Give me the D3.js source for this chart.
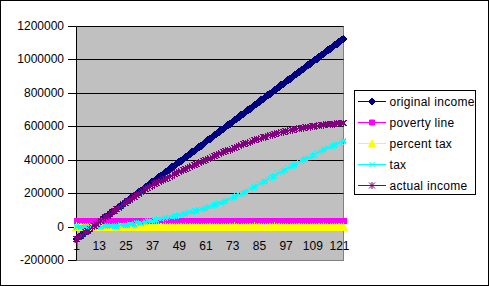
<!DOCTYPE html>
<head>
<meta charset="utf-8">
<script src="https://d3js.org/d3.v7.min.js"></script>
<style>
body { margin:0; background:#fff; }
text { font-family: "Liberation Sans", Arial, sans-serif; font-size: 12px; fill: #000; }
</style>
</head>
<body>
<script>

var periods = [1,2,3,4,5,6,7,8,9,10,11,12,13,14,15,16,17,18,19,20,21,22,23,24,25,26,27,28,29,30,
  31,32,33,34,35,36,37,38,39,40,41,42,43,44,45,46,47,48,49,50,51,52,53,54,55,56,57,58,59,60,
  61,62,63,64,65,66,67,68,69,70,71,72,73,74,75,76,77,78,79,80,81,82,83,84,85,86,87,88,89,90,
  91,92,93,94,95,96,97,98,99,100,101,102,103,104,105,106,107,108,109,110,111,112,113,114,115,116,117,118,119,120,121];
var xLabels = [1,13,25,37,49,61,73,85,97,109,121];
var yTicks = [-200000,0,200000,400000,600000,800000,1000000,1200000];

var originalIncome = [
  -75000,-65000,-55000,-45000,-35000,-25000,-15000,-5000,5000,15000,
  25000,35000,45000,55000,65000,75000,85000,95000,105000,115000,
  125000,135000,145000,155000,165000,175000,185000,195000,205000,215000,
  225000,235000,245000,255000,265000,275000,285000,295000,305000,315000,
  325000,335000,345000,355000,365000,375000,385000,395000,405000,415000,
  425000,435000,445000,455000,465000,475000,485000,495000,505000,515000,
  525000,535000,545000,555000,565000,575000,585000,595000,605000,615000,
  625000,635000,645000,655000,665000,675000,685000,695000,705000,715000,
  725000,735000,745000,755000,765000,775000,785000,795000,805000,815000,
  825000,835000,845000,855000,865000,875000,885000,895000,905000,915000,
  925000,935000,945000,955000,965000,975000,985000,995000,1005000,1015000,
  1025000,1035000,1045000,1055000,1065000,1075000,1085000,1095000,1105000,1115000,
  1125000];

var povertyLine = [
  35000,35000,35000,35000,35000,35000,35000,35000,35000,35000,
  35000,35000,35000,35000,35000,35000,35000,35000,35000,35000,
  35000,35000,35000,35000,35000,35000,35000,35000,35000,35000,
  35000,35000,35000,35000,35000,35000,35000,35000,35000,35000,
  35000,35000,35000,35000,35000,35000,35000,35000,35000,35000,
  35000,35000,35000,35000,35000,35000,35000,35000,35000,35000,
  35000,35000,35000,35000,35000,35000,35000,35000,35000,35000,
  35000,35000,35000,35000,35000,35000,35000,35000,35000,35000,
  35000,35000,35000,35000,35000,35000,35000,35000,35000,35000,
  35000,35000,35000,35000,35000,35000,35000,35000,35000,35000,
  35000,35000,35000,35000,35000,35000,35000,35000,35000,35000,
  35000,35000,35000,35000,35000,35000,35000,35000,35000,35000,
  35000];

var percentTax = [
  0,0,0,0,0,0,0,0,0,0,
  0.00,0.01,0.01,0.02,0.02,0.03,0.03,0.04,0.05,0.05,
  0.06,0.06,0.07,0.08,0.08,0.09,0.09,0.10,0.11,0.11,
  0.12,0.12,0.13,0.13,0.14,0.14,0.14,0.15,0.15,0.15,
  0.16,0.16,0.16,0.17,0.17,0.17,0.18,0.18,0.18,0.19,
  0.19,0.19,0.20,0.20,0.20,0.21,0.21,0.22,0.22,0.22,
  0.23,0.23,0.24,0.24,0.25,0.25,0.25,0.26,0.26,0.27,
  0.27,0.28,0.28,0.29,0.29,0.30,0.31,0.31,0.32,0.32,
  0.33,0.33,0.34,0.34,0.35,0.35,0.36,0.36,0.37,0.37,
  0.38,0.38,0.39,0.39,0.39,0.40,0.40,0.40,0.41,0.41,
  0.41,0.42,0.42,0.42,0.43,0.43,0.43,0.43,0.44,0.44,
  0.44,0.44,0.44,0.44,0.45,0.45,0.45,0.45,0.45,0.45,
  0.46];

var tax = [
  0,0,0,0,0,0,0,0,0,0,
  100,300,600,1000,1500,2100,2900,3800,4800,5900,
  7200,8600,10100,11700,13400,15300,17300,19400,21600,23900,
  26300,28700,31100,33500,36000,38500,41000,43600,46100,48650,
  51250,53900,56600,59350,62150,65000,67950,71000,74150,77400,
  80750,84200,87750,91400,95150,99000,102950,107000,111150,115400,
  119750,124200,128800,133550,138450,143500,148700,154050,159550,165200,
  171000,176950,183050,189300,195700,202250,208950,215800,222800,229900,
  237100,244400,251800,259250,266750,274250,281750,289250,296750,304250,
  311700,319100,326450,333750,341000,348200,355350,362450,369500,376500,
  383450,390350,397200,404000,410750,417450,424100,430700,437250,443750,
  450200,456600,462950,469250,475500,481700,487850,493950,500000,506000,
  511950];

var actualIncome = [
  -75000,-65000,-55000,-45000,-35000,-25000,-15000,-5000,5000,15000,
  24950,34900,44800,54700,64550,74400,84200,93950,103650,113300,
  122850,132300,141700,151000,160250,169400,178500,187500,196400,205200,
  213900,222000,229850,237450,244850,252050,259050,265900,272650,279300,
  285900,292450,298950,305400,311750,318050,324350,330630,336880,343100,
  349300,355470,361620,367740,373840,379910,385960,391980,397980,403960,
  409910,415810,421660,427460,433210,438910,444560,450110,455610,461060,
  466460,471760,477010,482210,487310,492360,497360,502260,507060,511810,
  516460,521010,525460,529860,534160,538360,542460,546460,550360,554160,
  557860,561410,564810,568110,571260,574310,577210,580010,582710,585310,
  587760,590110,592360,594510,596560,598510,600410,602260,604060,605810,
  607510,609160,610710,612210,613660,615060,616410,617710,618960,620160,
  621310];

// marker shapes, Excel style
var markers = {
  diamond: {d: "M0,-3.5L3.5,0L0,3.5L-3.5,0Z", filled: true},
  square: {d: "M-2.5,-2.5H2.5V2.5H-2.5Z", filled: true},
  triangle: {d: "M0,-3.5L3.5,3L-3.5,3Z", filled: true},
  cross: {d: "M-2.5,-2.5L2.5,2.5M-2.5,2.5L2.5,-2.5", filled: false},
  star: {d: "M-3,-3L3,3M-3,3L3,-3M0,-3.5V3.5", filled: false}
};

var series = [
  {name: "original income", values: originalIncome, color: "#000080", marker: "diamond"},
  {name: "poverty line", values: povertyLine, color: "#ff00ff", marker: "square"},
  {name: "percent tax", values: percentTax, color: "#ffff00", marker: "triangle"},
  {name: "tax", values: tax, color: "#00ffff", marker: "cross"},
  {name: "actual income", values: actualIncome, color: "#800080", marker: "star"}
];

var width = 489,
  height = 286,
  plotLeft = 76.5, plotRight = 343.5, plotTop = 26, plotBottom = 260;

var svg = d3.select("body").append("svg")
    .attr("width", width)
    .attr("height", height);

svg.append("rect")
    .attr("x", 0.5).attr("y", 0.5)
    .attr("width", width - 1).attr("height", height - 1)
    .style("fill", "#fff")
    .style("stroke", "#000");

var x = d3.scalePoint()
    .domain(periods)
    .range([plotLeft, plotRight]);

var y = d3.scaleLinear()
    .domain([-200000, 1200000])
    .rangeRound([plotBottom, plotTop]);

// plot area
svg.append("rect")
    .attr("x", plotLeft).attr("y", plotTop + 0.5)
    .attr("width", plotRight - plotLeft).attr("height", plotBottom - plotTop)
    .style("fill", "#c0c0c0")
    .style("stroke", "#808080");

svg.append("g")
  .selectAll("line")
  .data(yTicks.slice(1))
  .enter().append("line")
    .attr("x1", plotLeft).attr("x2", plotRight)
    .attr("y1", function(d) { return y(d) + 0.5; })
    .attr("y2", function(d) { return y(d) + 0.5; })
    .style("stroke", "#000");

var yAxis = svg.append("g")
    .attr("transform", "translate(76,0)")
    .call(d3.axisLeft(y).tickValues(yTicks).tickSize(8).tickPadding(4).tickSizeOuter(0).tickFormat(String));
yAxis.selectAll("line, path").style("stroke", "#000");

var xAxis = svg.append("g")
    .attr("transform", "translate(-0.5," + y(0) + ")")
    .style("shape-rendering", "crispEdges")
    .call(d3.axisBottom(x).tickValues(periods).tickSize(4).tickSizeOuter(0).tickFormat(""));
xAxis.selectAll("line, path").style("stroke", "#000");

var xText = svg.append("g")
    .attr("transform", "translate(-0.5," + y(0) + ")")
    .call(d3.axisBottom(x).tickValues(xLabels).tickSize(0).tickPadding(14));
xText.select(".domain").remove();
// Excel packs the labels slightly left of their categories
xText.selectAll("text").attr("dx", function(d) { return d === 1 ? 0 : -4; });

var line = d3.line()
    .x(function(d, i) { return x(periods[i]); })
    .y(function(d) { return y(d); });

series.forEach(function(s) {
  var g = svg.append("g");
  g.append("path")
    .attr("d", line(s.values))
    .style("fill", "none")
    .style("stroke", s.color);
  g.selectAll("path.m")
    .data(s.values)
    .enter().append("path")
    .attr("class", "m")
    .attr("transform", function(d, i) { return "translate(" + x(periods[i]) + "," + y(d) + ")"; })
    .attr("d", markers[s.marker].d)
    .style("fill", markers[s.marker].filled ? s.color : "none")
    .style("stroke", s.color)
    .style("shape-rendering", "crispEdges");
});

// legend
var legend = svg.append("g")
    .attr("transform", "translate(354.5,90.5)");

legend.append("rect")
    .attr("width", 121).attr("height", 104)
    .style("fill", "#fff")
    .style("stroke", "#000");

var item = legend.selectAll("g.item")
  .data(series)
  .enter().append("g")
    .attr("class", "item")
    .attr("transform", function(d, i) { return "translate(0," + (11 + i * 21) + ")"; });

item.append("line")
    .attr("x1", 3.5).attr("x2", 31.5)
    .style("stroke", function(d) { return d.color; });

item.append("path")
    .attr("transform", "translate(17.5,0)")
    .attr("d", function(d) { return markers[d.marker].d; })
    .style("fill", function(d) { return markers[d.marker].filled ? d.color : "none"; })
    .style("stroke", function(d) { return d.color; });

item.append("text")
    .attr("x", 35)
    .attr("y", 4.5)
    .style("letter-spacing", "0.3px")
    .text(function(d) { return d.name; });

</script>
</body>
